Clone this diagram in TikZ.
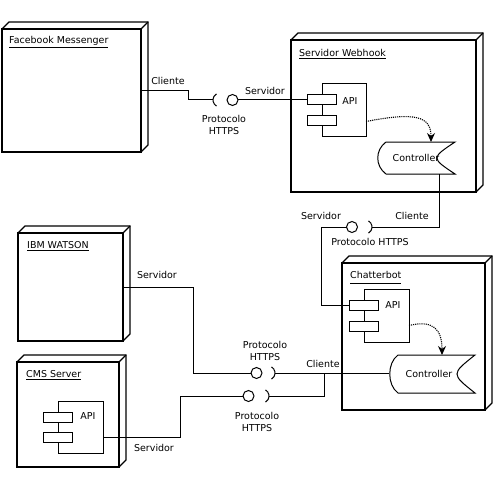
\documentclass[tikz,border=0pt]{standalone}
\usepackage{fontspec}
\setmainfont{DejaVu Sans}
\usetikzlibrary{calc,arrows.meta}
\newcommand\nodedepth[1]{%
  \draw[line width=1.3pt,line join=miter] (#1.north west) -- ++(7,-7) -- ($(#1.north east)+(7,-7)$) -- ($(#1.south east)+(7,-7)$) -- (#1.south east);
  \draw[line width=1.3pt] (#1.north east) -- ++(7,-7);}
\newcommand\ctlshape[1]{%
  \draw[line width=1pt,fill=white] ($(#1.north west)+(9,0)$) -- (#1.north east)
    .. controls ($(#1.east)+(-24,0)$) .. (#1.south east) -- ($(#1.south west)+(9,0)$)
    .. controls ($(#1.south west)+(-2,-8)$) and ($(#1.north west)+(-2,8)$) .. cycle;}
\begin{document}
\begin{tikzpicture}[x=1pt,y=-1pt,
  box/.style={draw,line width=1.3pt,inner sep=0pt,outer sep=0pt},
  apibody/.style={draw,line width=1pt,inner sep=0pt,outer sep=0pt,fill=white},
  port/.style={draw,line width=1pt,fill=white,minimum width=29pt,minimum height=10pt,inner sep=0pt,outer sep=0pt},
  txt/.style={font=\fontsize{9.5}{12}\selectfont,inner sep=0pt,align=center},
  ctl/.style={inner sep=0pt,outer sep=0pt,font=\fontsize{9.5}{12}\selectfont},
  wire/.style={line width=1pt},
  ball/.style={circle,draw,line width=1pt,minimum size=11pt,inner sep=0pt,outer sep=0pt},
  dep/.style={densely dotted,line width=1.1pt,-{Stealth[length=9pt,width=8pt]}},
  ]
\path[use as bounding box] (0,0) rectangle (495,484);

% nodes (3D boxes)
\node[box,minimum width=139pt,minimum height=123pt] (fb) at (71.5,90.5) {};
\nodedepth{fb}
\node[box,minimum width=185pt,minimum height=152pt] (wh) at (383.5,116) {};
\nodedepth{wh}
\node[box,minimum width=143pt,minimum height=147pt] (cb) at (413.5,336.5) {};
\nodedepth{cb}
\node[box,minimum width=105pt,minimum height=108pt] (ibm) at (70.5,287) {};
\nodedepth{ibm}
\node[box,minimum width=102pt,minimum height=105pt] (cms) at (68,414.5) {};
\nodedepth{cms}

% titles
\node[txt,anchor=west] (fbt) at (9,42) {\underline{Facebook Messenger}};
\node[txt,anchor=west] (wht) at (299,54) {\underline{Servidor Webhook}};
\node[txt,anchor=west] (cbt) at (350,277) {\underline{Chatterbot\strut}};
\node[txt,anchor=west] (ibmt) at (27,246) {\underline{IBM WATSON}};
\node[txt,anchor=west] (cmst) at (26,375) {\underline{CMS Server}};

% API components
\node[apibody,minimum width=44pt,minimum height=53pt] (whapi) at (344,110.5) {};
\node[port] (whp1) at (321.5,100) {};
\node[port] (whp2) at (321.5,121) {};
\node[txt] at (350,101) {API};

\node[apibody,minimum width=45pt,minimum height=53pt] (cbapi) at (386.5,315.5) {};
\node[port] (cbp1) at (364,305) {};
\node[port] (cbp2) at (364,326) {};
\node[txt] at (393,305) {API};

\node[apibody,minimum width=45pt,minimum height=52pt] (cmsapi) at (80.5,427) {};
\node[port] (cmsp1) at (58,417) {};
\node[port] (cmsp2) at (58,437.5) {};
\node[txt] at (88,416) {API};

% controllers
\node[ctl,minimum width=78pt,minimum height=32pt] (whctl) at (416,158) {};
\ctlshape{whctl}
\node[txt] at (whctl) {Controller};
\node[ctl,minimum width=86pt,minimum height=38pt] (cbctl) at (432,374) {};
\ctlshape{cbctl}
\node[txt] at ($(cbctl)+(-3,0)$) {Controller};

% dependencies
\draw[dep] ($(whapi.east)+(0,11)$) .. controls (415,112) and (431,116) .. ($(whctl.north)+(15,0)$);
\draw[dep] ($(cbapi.east)+(0,10)$) .. controls (432,320) and (442,328) .. ($(cbctl.north)+(10,0)$);

% interfaces: sockets and balls
\coordinate (sk1) at (220,100);
\coordinate (sk2) at (365,227);
\coordinate (sk3) at (268,373);
\coordinate (sk4) at (262,396);
\draw[wire] ($(sk1)+(120:7)$) arc (120:240:7);
\draw[wire] ($(sk2)+(-60:7)$) arc (-60:60:7);
\draw[wire] ($(sk3)+(-60:7)$) arc (-60:60:7);
\draw[wire] ($(sk4)+(-60:7)$) arc (-60:60:7);
\node[ball] (b1) at (232.5,100) {};
\node[ball] (b2) at (352,227) {};
\node[ball] (b3) at (256.5,373) {};
\node[ball] (b4) at (248.5,396) {};

% connectors
\draw[wire] (fb.east) -- (188,90.5) |- ($(sk1)+(-7,0)$);
\draw[wire] (b1) -- (whp1);
\draw[wire] ($(whctl.south)+(23,0)$) |- ($(sk2)+(7,0)$);
\draw[wire] (b2) -- (321,227) |- (cbp1.west);
\draw[wire] (ibm.east) -- (193,287) |- (b3.west);
\draw[wire] ($(sk3)+(7,0)$) -- (sk3 -| cbctl.west);
\coordinate (j) at (324,373);
\draw[wire] ($(cmsapi.east)+(0,10)$) -- (180,437) |- (b4.west);
\draw[wire] ($(sk4)+(7,0)$) -| (j);

% labels
\node[txt] at (168,81) {Cliente};
\node[txt] at (265,91) {Servidor};
\node[txt] at (224,125) {Protocolo\\HTTPS};
\node[txt] at (321,216) {Servidor};
\node[txt] at (412,216) {Cliente};
\node[txt] at (370,242) {Protocolo HTTPS};
\node[txt] at (157,275) {Servidor};
\node[txt] at (265,351) {Protocolo\\HTTPS};
\node[txt] at (323,364) {Cliente};
\node[txt] at (257,422) {Protocolo\\HTTPS};
\node[txt] at (154,448) {Servidor};
\end{tikzpicture}
\end{document}
